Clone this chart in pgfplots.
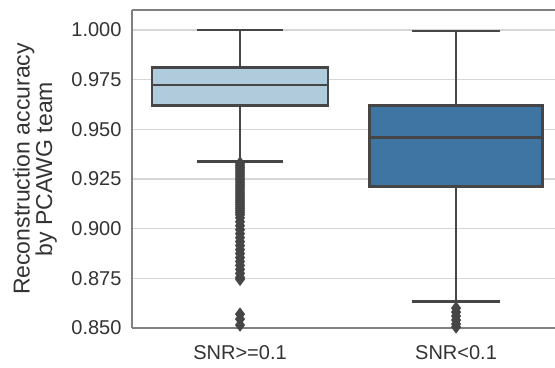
\documentclass[border=0pt]{standalone}
\usepackage{pgfplots}
\pgfplotsset{compat=1.18}
\usepgfplotslibrary{statistics}
\usepackage{fontspec}
\setmainfont{Liberation Sans}
\definecolor{lightbox}{RGB}{176,203,220}
\definecolor{darkbox}{RGB}{63,117,162}
\definecolor{edge}{RGB}{70,70,70}
\definecolor{gridc}{RGB}{214,214,214}
\definecolor{framec}{RGB}{128,128,128}
\pgfplotsset{
  every boxplot/.style={line width=2.8pt},
  boxplot/every whisker/.style={line width=2.8pt, draw=edge, solid},
  boxplot/every median/.style={line width=2.8pt, draw=edge, solid},
  boxplot/every box/.style={line width=2.8pt, draw=edge, solid},
}
\begin{document}
\begin{tikzpicture}
\begin{axis}[
  name=ax,
  scale only axis,
  width=423pt, height=318pt,
  xmin=-0.5, xmax=1.458,
  ymin=0.85, ymax=1.0101,
  boxplot/draw direction=y,
  axis lines*=left,
  axis line style={framec, line width=1.3pt, -},
  xtick={0,1},
  xticklabels={SNR>=0.1, SNR<0.1},
  ytick={0.85,0.875,0.9,0.925,0.95,0.975,1.0},
  yticklabel style={/pgf/number format/fixed, /pgf/number format/precision=3, /pgf/number format/fixed zerofill},
  /pgf/number format/assume math mode=true,
  tick label style={font=\fontsize{20}{22}\selectfont, text=black!80},
  major tick length=0pt,
  ymajorgrids,
  grid style={gridc, line width=1.2pt},
  ylabel={Reconstruction accuracy\\by PCAWG team},
  every axis y label/.style={at={(rel axis cs:0,0.5)}, xshift=-97pt, rotate=90, anchor=center,
     align=center, font=\fontsize{23}{21}\selectfont, text=black!80},
  xticklabel style={yshift=-14pt},
  yticklabel style={xshift=-7pt},
  clip=true,
]
\addplot+[
  boxplot prepared={
    median=0.9723, upper quartile=0.9810, lower quartile=0.9619,
    upper whisker=1.0000, lower whisker=0.9337,
    draw position=0, box extend=0.815, whisker extend=0.40},
  fill=lightbox, draw=edge, line width=2.8pt, solid,
  mark=diamond*, mark size=4.4pt,
  mark options={fill=edge, draw=edge}
] table[row sep=\\, y index=0] {
data\\
0.9330\\0.9320\\0.9310\\0.9300\\0.9290\\0.9280\\0.9270\\0.9260\\0.9250\\0.9240\\
0.9230\\0.9220\\0.9210\\0.9200\\0.9190\\0.9180\\0.9170\\0.9160\\0.9150\\0.9140\\
0.9130\\0.9120\\0.9110\\0.9100\\0.9090\\0.9080\\0.9070\\0.9055\\0.9035\\0.9015\\
0.8995\\0.8975\\0.8955\\0.8935\\0.8915\\0.8895\\0.8875\\0.8855\\0.8835\\0.8815\\
0.8795\\0.8775\\0.8755\\0.8745\\0.8570\\0.8545\\0.8515\\
};
\addplot+[
  boxplot prepared={
    median=0.9458, upper quartile=0.9621, lower quartile=0.9211,
    upper whisker=0.9995, lower whisker=0.8633,
    draw position=1, box extend=0.80, whisker extend=0.41},
  fill=darkbox, draw=edge, line width=2.8pt, solid,
  mark=diamond*, mark size=4.4pt,
  mark options={fill=edge, draw=edge}
] table[row sep=\\, y index=0] {
data\\
0.8600\\0.8580\\0.8560\\0.8540\\0.8520\\0.8505\\
};
\end{axis}
\draw[framec, line width=1.3pt] (ax.north west) -- (ax.north east);
\pgfresetboundingbox
\path ([xshift=-132pt,yshift=-39pt]ax.south west) rectangle ([yshift=10pt]ax.north east);
\end{tikzpicture}
\end{document}
